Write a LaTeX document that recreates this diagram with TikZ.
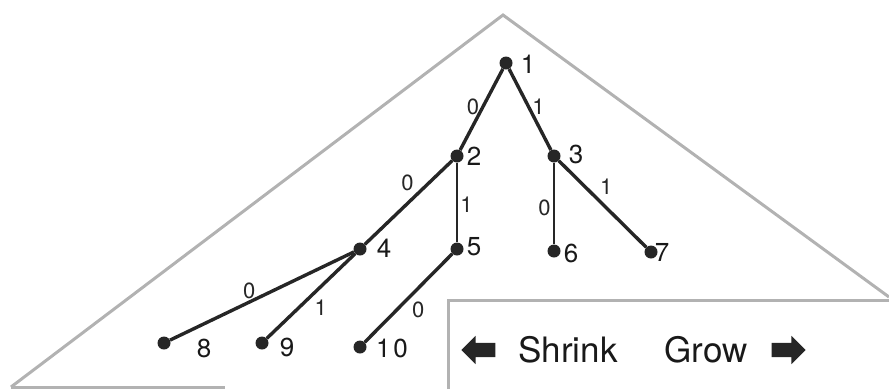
\documentclass[tikz,border=0pt]{standalone}
\usepackage{fontspec}
\setmainfont{TeX Gyre Heros}
\usetikzlibrary{shapes.arrows}

\begin{document}
\begin{tikzpicture}[
    x=1pt, y=-1pt,
    dot/.style={circle, fill=black!85, minimum size=13pt, inner sep=0pt},
    edge/.style={black!85, line width=3.4pt},
    vedge/.style={black!85, line width=2.6pt},
    nlbl/.style={font=\fontsize{26}{26}\selectfont, text=black!90, inner sep=0pt},
    elbl/.style={font=\fontsize{22}{22}\selectfont, text=black!85, inner sep=2pt},
    frame/.style={gray!60, line width=3pt},
    blockarr/.style={single arrow, fill=black!85, minimum height=34pt,
                     single arrow head extend=7pt, inner xsep=0pt, inner ysep=7pt},
    caption/.style={font=\fontsize{35}{35}\selectfont, text=black!90, inner sep=0pt},
]
\useasboundingbox (0,0) rectangle (889,389);
% ---- Outer frame: triangle and the panel below it ----
\draw[frame] (11,387) -- (503,15) -- (889,297);
\draw[frame] (448,389) -- (448,300) -- (889,300);
\draw[frame] (11,387) -- (225,387);

% ---- Tree nodes ----
\node[dot] (n1)  at (506,63)  {};
\node[dot] (n2)  at (457,156) {};
\node[dot] (n3)  at (554,156) {};
\node[dot] (n4)  at (360,249) {};
\node[dot] (n5)  at (457,249) {};
\node[dot] (n6)  at (554,251) {};
\node[dot] (n7)  at (651,252) {};
\node[dot] (n8)  at (164,343) {};
\node[dot] (n9)  at (262,343) {};
\node[dot] (n10) at (360,347) {};

% ---- Node numbers ----
\node[nlbl] (l1)  at (528,64)  {1};
\node[nlbl] (l2)  at (474,156) {2};
\node[nlbl] (l3)  at (576,154) {3};
\node[nlbl] (l4)  at (384,248) {4};
\node[nlbl] (l5)  at (474,247) {5};
\node[nlbl] (l6)  at (571,253) {6};
\node[nlbl] (l7)  at (662,252) {7};
\node[nlbl] (l8)  at (204,348) {8};
\node[nlbl] (l9)  at (287,347) {9};
\node[nlbl] (l10) at (392,348) {1\kern3pt0};

% ---- Edges with branch bits ----
\draw[edge]  (n1) -- node[elbl, left, pos=.47]{0} (n2);
\draw[edge]  (n1) -- node[elbl, right, pos=.47]{1} (n3);
\draw[edge]  (n2) -- node[elbl, above left, pos=.4]{0} (n4);
\draw[vedge] (n2) -- node[elbl, right, pos=.53]{1} (n5);
\draw[vedge] (n3) -- node[elbl, left, pos=.55]{0} (n6);
\draw[edge]  (n3) -- node[elbl, above right, pos=.43]{1} (n7);
\draw[edge]  (n4) -- node[elbl, above, pos=.57]{0} (n8);
\draw[edge]  (n4) -- node[elbl, below right, pos=.5]{1} (n9);
\draw[edge]  (n5) -- node[elbl, below right, pos=.5]{0} (n10);

% ---- Shrink / grow legend ----
\node[blockarr, shape border rotate=180] (left)  at (482,350) {};
\node[caption] (shrink) at (568,350) {Shrink};
\node[caption] (grow)   at (706,350) {Grow};
\node[blockarr] (right) at (785,350) {};
\end{tikzpicture}
\end{document}
